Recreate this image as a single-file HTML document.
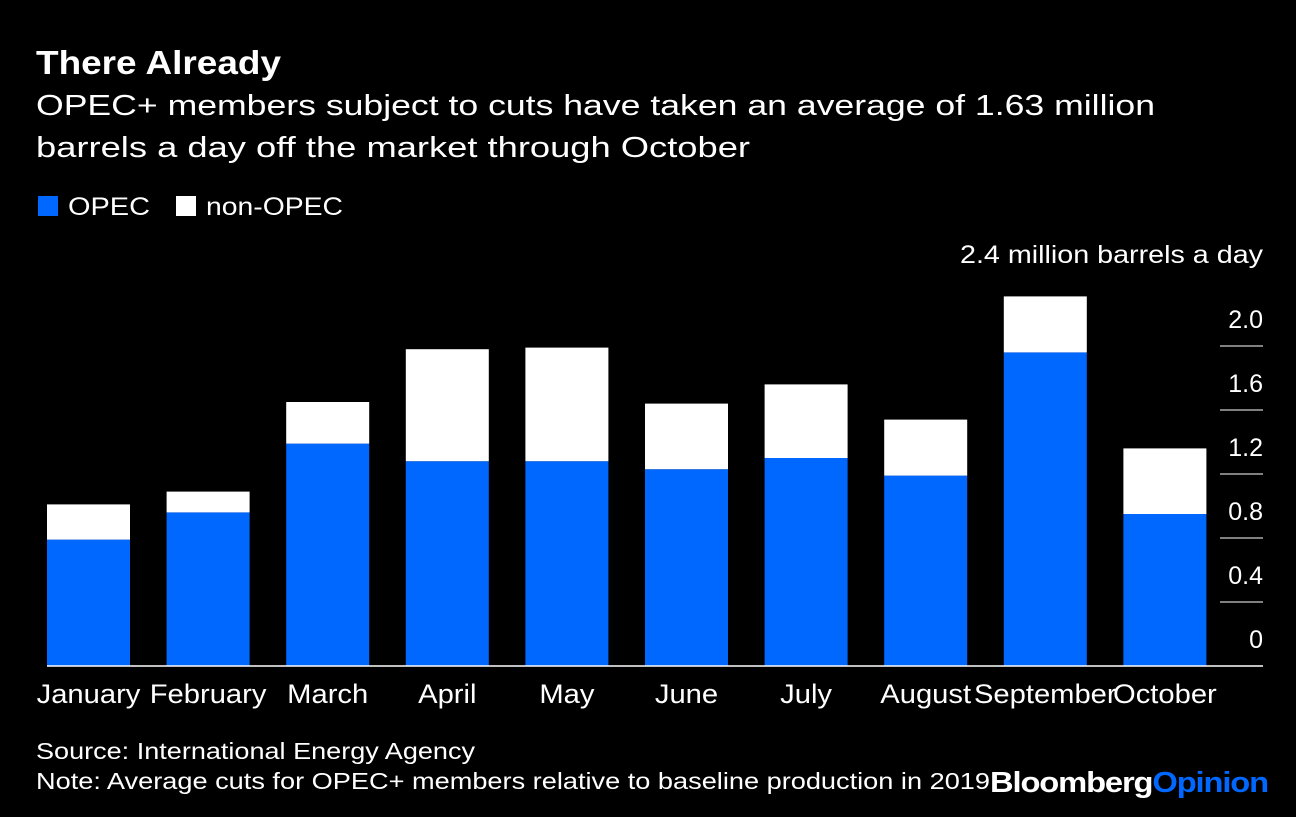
<!DOCTYPE html>
<html><head><meta charset="utf-8"><style>
body{margin:0;background:#000;width:1296px;height:812px;overflow:hidden;font-family:"Liberation Sans",sans-serif;color:#fff}
</style></head><body>
<svg width="1296" height="812" id="svg" font-family="Liberation Sans, sans-serif">
<text x="36" y="74" font-size="33" font-weight="bold" fill="#fff" textLength="245" lengthAdjust="spacingAndGlyphs">There Already</text>
<text x="36" y="115" font-size="29" fill="#fff" textLength="1119" lengthAdjust="spacingAndGlyphs">OPEC+ members subject to cuts have taken an average of 1.63 million</text>
<text x="36" y="157" font-size="29" fill="#fff" textLength="714" lengthAdjust="spacingAndGlyphs">barrels a day off the market through October</text>
<rect x="38" y="196" width="20" height="20" fill="#0068ff"/>
<text x="68" y="215" font-size="25" fill="#fff" textLength="82" lengthAdjust="spacingAndGlyphs">OPEC</text>
<rect x="176" y="196" width="20" height="20" fill="#fff"/>
<text x="206" y="215" font-size="25" fill="#fff" textLength="137" lengthAdjust="spacingAndGlyphs">non-OPEC</text>
<text x="960" y="263" font-size="25" fill="#fff" textLength="303" lengthAdjust="spacingAndGlyphs">2.4 million barrels a day</text>
<g id="plot"></g>
<text x="36" y="759" font-size="23" fill="#fff" textLength="439" lengthAdjust="spacingAndGlyphs">Source: International Energy Agency</text>
<text x="36" y="789" font-size="23" fill="#fff" textLength="954" lengthAdjust="spacingAndGlyphs">Note: Average cuts for OPEC+ members relative to baseline production in 2019</text>
<text x="990" y="792" font-size="29" font-weight="bold" letter-spacing="-1" textLength="278" lengthAdjust="spacingAndGlyphs"><tspan fill="#fff">Bloomberg</tspan><tspan fill="#0068ff">Opinion</tspan></text>
</svg>
<script>
const months=["January","February","March","April","May","June","July","August","September","October"];
const opec=[0.79,0.96,1.39,1.28,1.28,1.23,1.30,1.19,1.96,0.95];
const nonOpec=[0.22,0.13,0.26,0.70,0.71,0.41,0.46,0.35,0.35,0.41];
const ticks=[0,0.4,0.8,1.2,1.6,2.0];
const tickLabels=["0","0.4","0.8","1.2","1.6","2.0"];
const NS="http://www.w3.org/2000/svg";
const g=document.getElementById("plot");
const y0=666,pxPerUnit=160;
const y=v=>y0-v*pxPerUnit;
const x=i=>47+i*119.6;
const bw=83;
function mk(t,a){const e=document.createElementNS(NS,t);for(const k in a)e.setAttribute(k,a[k]);g.appendChild(e);return e;}
ticks.forEach((t,i)=>{
  const l=mk("line",{x1:1220,x2:1263,y1:y(t),y2:y(t),stroke:"#fff","stroke-width":1});
  
  
  const tx=mk("text",{x:1263,y:y(t)-18,"font-size":25,fill:"#fff","text-anchor":"end"});
  tx.textContent=tickLabels[i];
  
  
});
months.forEach((m,i)=>{
  const a=mk("rect",{x:x(i),y:y(opec[i]),width:bw,height:opec[i]*pxPerUnit,fill:"#0068ff"});
  
  
  const b=mk("rect",{x:x(i),y:y(opec[i]+nonOpec[i]),width:bw,height:nonOpec[i]*pxPerUnit,fill:"#fff"});
  
  
  const t=mk("text",{x:x(i)+bw/2,y:703,"font-size":27,fill:"#fff","text-anchor":"middle"});
  t.textContent=m;
  
  
  const w=t.getComputedTextLength();
  t.setAttribute("textLength",w*1.08);
  t.setAttribute("lengthAdjust","spacingAndGlyphs");
});
const base=mk("line",{x1:47,x2:1263,y1:y0,y2:y0,stroke:"#fff","stroke-width":1.5});


</script>
</body></html>
